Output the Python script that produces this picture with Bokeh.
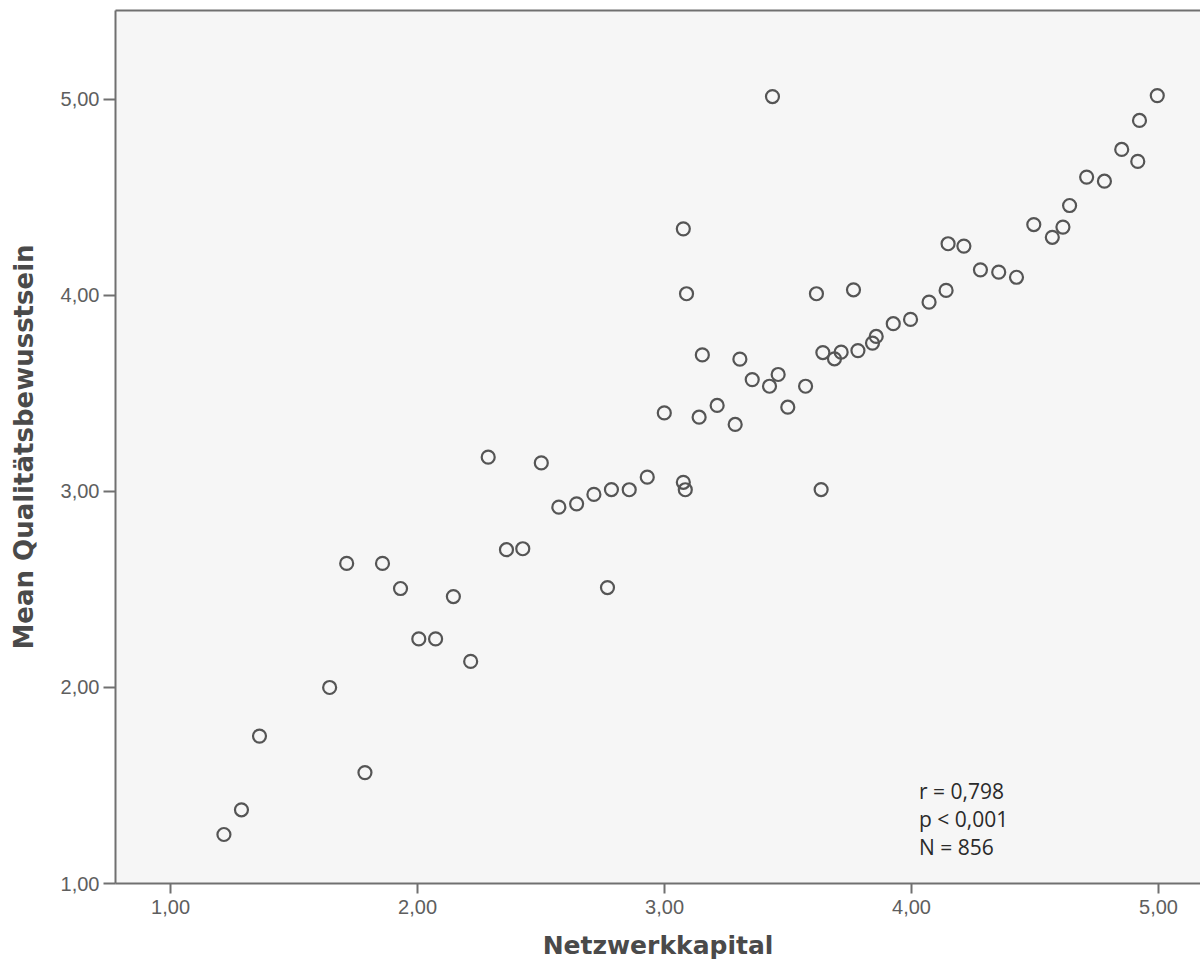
from bokeh.plotting import figure
from bokeh.models import (ColumnDataSource, CustomJSTickFormatter, FixedTicker,
                          LinearAxis, Range1d, Label)
from bokeh.embed import file_html
from bokeh.resources import INLINE

# ---- data ----
netzwerkkapital = [
    1.216, 1.287, 1.360, 1.644, 1.787, 1.713, 1.858, 1.931, 2.005, 2.073,
    2.145, 2.215, 2.286, 2.360, 2.426, 2.501, 2.572, 2.644, 2.714, 2.785,
    2.857, 2.930, 2.999, 2.769, 3.076, 3.089, 3.076, 3.084, 3.140, 3.153,
    3.213, 3.286, 3.305, 3.355, 3.425, 3.460, 3.499, 3.571, 3.437, 3.615,
    3.634, 3.641, 3.688, 3.715, 3.765, 3.783, 3.842, 3.857, 3.926, 3.996,
    4.071, 4.140, 4.148, 4.212, 4.279, 4.353, 4.425, 4.495, 4.570, 4.613,
    4.640, 4.709, 4.781, 4.851, 4.916, 4.923, 4.995,
]
qualitaet = [
    1.250, 1.376, 1.752, 2.000, 1.566, 2.633, 2.633, 2.505, 2.248, 2.248,
    2.464, 2.133, 3.175, 2.703, 2.708, 3.146, 2.920, 2.937, 2.985, 3.010,
    3.009, 3.073, 3.401, 2.510, 4.340, 4.009, 3.047, 3.009, 3.379, 3.697,
    3.439, 3.342, 3.675, 3.571, 3.537, 3.597, 3.430, 3.537, 5.015, 4.009,
    3.010, 3.709, 3.677, 3.711, 4.029, 3.719, 3.757, 3.791, 3.856, 3.878,
    3.966, 4.026, 4.264, 4.252, 4.131, 4.119, 4.093, 4.362, 4.297, 4.349,
    4.459, 4.604, 4.583, 4.745, 4.684, 4.893, 5.020,
]
tick_values = [1.0, 2.0, 3.0, 4.0, 5.0]
stats_lines = ["r  = 0,798", "p < 0,001", "N = 856"]
stats_x = 4.03
stats_y = [1.474, 1.327, 1.184]
x_title = "Netzwerkkapital"
y_title = "Mean Qualitätsbewusstsein"

source = ColumnDataSource(data=dict(x=netzwerkkapital, y=qualitaet))

p = figure(width=1200, height=970, output_backend="svg", toolbar_location=None,
           x_range=Range1d(0.777, 5.170), y_range=Range1d(1.0, 5.454),
           min_border_left=115, min_border_right=0, min_border_top=10,
           min_border_bottom=87)
p.background_fill_color = "#f6f6f6"
p.border_fill_color = "#ffffff"
p.outline_line_color = None
p.xgrid.visible = False
p.ygrid.visible = False

p.scatter("x", "y", source=source, marker="circle", size=13,
          fill_color=None, line_color="#555555", line_width=2.2)

fmt = CustomJSTickFormatter(code="return tick.toFixed(2).replace('.', ',');")
axis_color = "#707070"
label_color = "#5e5e5e"
for ax in (p.xaxis[0], p.yaxis[0]):
    ax.ticker = FixedTicker(ticks=tick_values)
    ax.formatter = fmt
    ax.axis_line_color = axis_color
    ax.axis_line_width = 2
    ax.major_tick_line_color = axis_color
    ax.major_tick_line_width = 2
    ax.major_tick_in = 0
    ax.minor_tick_line_color = None
    ax.major_label_text_font = "Liberation Sans"
    ax.major_label_text_font_size = "20px"
    ax.major_label_text_color = label_color
    ax.axis_label_text_font = "DejaVu Sans"
    ax.axis_label_text_font_style = "bold"
    ax.axis_label_text_color = "#4a4a4a"

p.xaxis[0].axis_label = x_title
p.xaxis[0].axis_label_text_font_size = "25px"
p.xaxis[0].major_tick_out = 10
p.xaxis[0].major_label_standoff = 6
p.xaxis[0].axis_label_standoff = 14

p.yaxis[0].axis_label = y_title
p.yaxis[0].axis_label_text_font_size = "26px"
p.yaxis[0].major_tick_out = 12
p.yaxis[0].major_label_standoff = 4
p.yaxis[0].axis_label_standoff = 19

top = LinearAxis(ticker=FixedTicker(ticks=[]), axis_line_color=axis_color,
                 axis_line_width=2, major_tick_out=0, major_tick_in=0,
                 minor_tick_out=0, minor_tick_in=0,
                 major_label_text_font_size="0px")
p.add_layout(top, "above")

for line, yy in zip(stats_lines, stats_y):
    p.add_layout(Label(x=stats_x, y=yy, text=line, text_font="Open Sans",
                       text_font_size="21px", text_color="#2a2a2a",
                       text_baseline="middle", text_align="left"))

open("out.html", "w").write(file_html(p, INLINE))
